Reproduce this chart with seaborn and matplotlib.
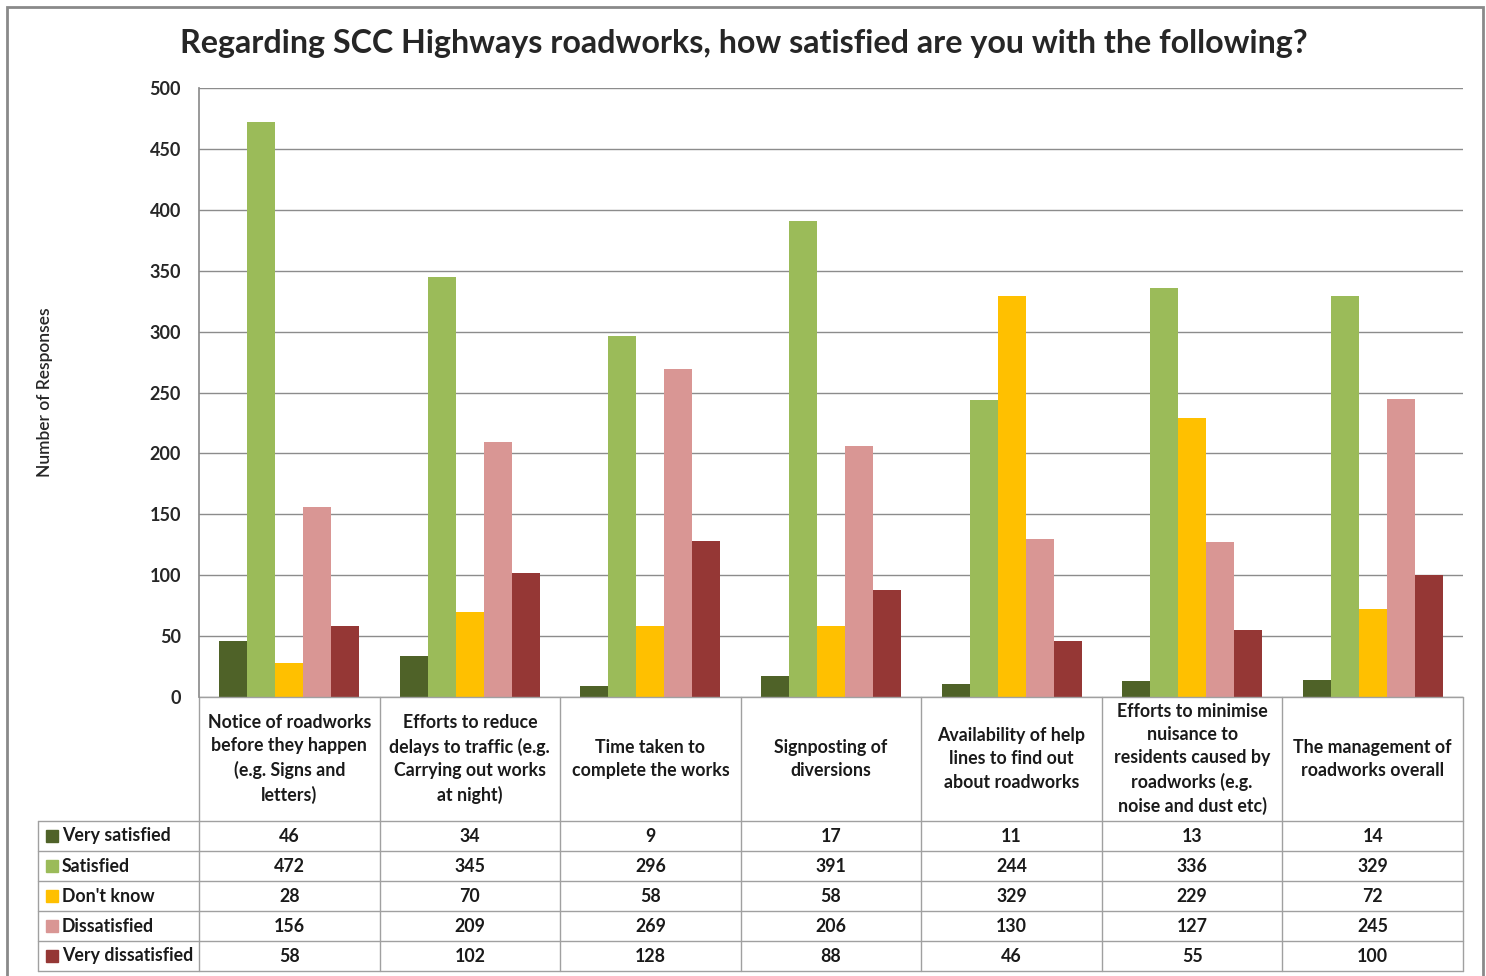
import pandas as pd
import matplotlib.pyplot as plt
import matplotlib.patches as mpatches
import matplotlib.transforms as mtransforms
import seaborn as sns
import numpy as np

sns.set_theme(style="white")
plt.rcParams['font.family'] = ['Lato', 'DejaVu Sans']

# categories (labels wrapped like the original data table)
categories = [
    "Notice of roadworks\nbefore they happen\n(e.g. Signs and\nletters)",
    "Efforts to reduce\ndelays to traffic (e.g.\nCarrying out works\nat night)",
    "Time taken to\ncomplete the works",
    "Signposting of\ndiversions",
    "Availability of help\nlines to find out\nabout roadworks",
    "Efforts to minimise\nnuisance to\nresidents caused by\nroadworks (e.g.\nnoise and dust etc)",
    "The management of\nroadworks overall",
]
responses = ["Very satisfied", "Satisfied", "Don't know", "Dissatisfied", "Very dissatisfied"]
very_satisfied = [46, 34, 9, 17, 11, 13, 14]
satisfied = [472, 345, 296, 391, 244, 336, 329]
dont_know = [28, 70, 58, 58, 329, 229, 72]
dissatisfied = [156, 209, 269, 206, 130, 127, 245]
very_dissatisfied = [58, 102, 128, 88, 46, 55, 100]
colors = ["#4F6228", "#9BBB59", "#FFC000", "#D99694", "#953735"]

series = [very_satisfied, satisfied, dont_know, dissatisfied, very_dissatisfied]
df = pd.DataFrame({
    "category": [c for _ in responses for c in categories],
    "response": [r for r in responses for _ in categories],
    "count": [v for s in series for v in s],
})

W, H = 1486, 976
fig = plt.figure(figsize=(W / 100, H / 100), dpi=100)
ax_h = 609
ax = fig.add_axes([199 / W, 1 - 697 / H, 1264 / W, ax_h / H])

sns.barplot(data=df, x="category", y="count", hue="response", order=categories,
            hue_order=responses, palette=colors, width=0.775, saturation=1,
            legend=False, ax=ax, edgecolor="none", linewidth=0)

ax.set_xlim(-0.5, 6.5)
ax.set_ylim(0, 500)
ax.set_yticks(np.arange(0, 501, 50))
ax.set_xticks([])
ax.set_xlabel("")
ax.set_ylabel("Number of Responses", fontsize=12.5, fontweight="semibold")
ax.yaxis.set_label_coords((53 - 199) / 1264, 0.5)
ax.tick_params(axis="y", labelsize=13, length=0, pad=13)
for lab in ax.get_yticklabels():
    lab.set_fontweight("bold")
ax.grid(axis="y", color="#8c8c8c", linewidth=1)
ax.set_axisbelow(True)
for side in ["top", "right", "bottom"]:
    ax.spines[side].set_visible(False)
ax.spines["left"].set_color("#8c8c8c")

# data table under the chart (x in data units, y in axes units)
tr = mtransforms.blended_transform_factory(ax.transData, ax.transAxes)
col_w = 1264 / 7
x_lab = -0.5 - 161 / col_w
row_px = [697, 821, 851, 881, 911, 941, 971]
row_y = [-(p - 697) / ax_h for p in row_px]
line_kw = dict(color="#a0a0a0", linewidth=1, transform=tr, clip_on=False)
ax.plot([-0.5, 6.5], [row_y[0], row_y[0]], **line_kw)
for y in row_y[1:]:
    ax.plot([x_lab, 6.5], [y, y], **line_kw)
ax.plot([x_lab, x_lab], [row_y[1], row_y[-1]], **line_kw)
for k in range(8):
    ax.plot([k - 0.5, k - 0.5], [row_y[0], row_y[-1]], **line_kw)

txt_kw = dict(transform=tr, fontsize=12.8, fontweight="bold", color="#1a1a1a", clip_on=False)
for i, cat in enumerate(categories):
    ax.text(i, (row_y[0] + row_y[1]) / 2, cat, ha="center", va="center",
            linespacing=1.44, **txt_kw)
for j, (name, vals, col) in enumerate(zip(responses, series, colors)):
    yc = (row_y[j + 1] + row_y[j + 2]) / 2
    ax.text(-0.5 + (62 - 199) / col_w, yc, name, ha="left", va="center", **txt_kw)
    ax.add_patch(mpatches.Rectangle((-0.5 + (46 - 199) / col_w, yc - 6 / ax_h), 12 / col_w, 12 / ax_h,
                                    transform=tr, color=col, clip_on=False))
    for i, v in enumerate(vals):
        ax.text(i, yc, str(v), ha="center", va="center", **txt_kw)

fig.text(744 / W, 1 - 44 / H, "Regarding SCC Highways roadworks, how satisfied are you with the following?",
         ha="center", va="center", fontsize=23.2, fontweight="bold")

fig.add_artist(mpatches.Rectangle((7 / W, -0.05), (1483 - 7) / W, 1.05 - 7 / H,
                                  transform=fig.transFigure, fill=False,
                                  edgecolor="#8a8a8a", linewidth=2))

fig.savefig("out.png", dpi=100)
